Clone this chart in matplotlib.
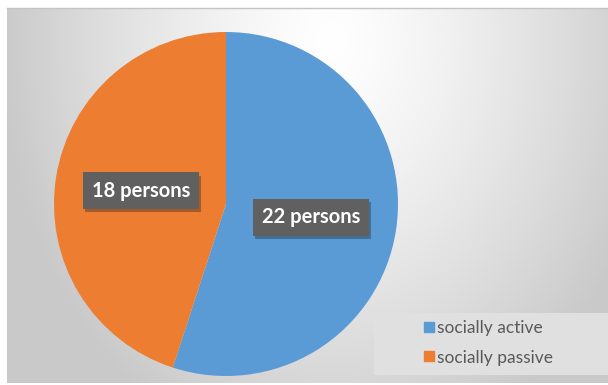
import numpy as np
import matplotlib
matplotlib.use("Agg")
import matplotlib.pyplot as plt
from matplotlib.patches import Rectangle
from matplotlib.lines import Line2D
import matplotlib.patheffects as pe

categories = ["socially active", "socially passive"]
values = [22, 18]
colors = ["#5B9BD5", "#ED7D31"]
label_fmt = "{} persons"

W, H = 608, 385
fig = plt.figure(figsize=(W / 100, H / 100), dpi=100)
fig.patch.set_facecolor("white")

# background with radial gradient
bx0, by0, bx1, by1 = 7, 8, 608, 383
bg = fig.add_axes([bx0 / W, 1 - by1 / H, (bx1 - bx0) / W, (by1 - by0) / H])
xs = np.arange(bx0, bx1)
ys = np.arange(by0, by1)
X, Y = np.meshgrid(xs, ys)
cx, cy = 330, 40
r = np.sqrt(((X - cx) / 330.0) ** 2 + ((Y - cy) / 430.0) ** 2)
r = np.clip(r, 0, 1)
v = 1.0 - (1.0 - 0.79) * r ** 1.3
img = np.dstack([v, v, v])
bg.imshow(img, aspect="auto", extent=[0, 1, 0, 1], interpolation="bilinear")
bg.set_axis_off()
fig.add_artist(Line2D([bx0 / W, 1], [1 - by0 / H, 1 - by0 / H], color="#c4c4c4", lw=1))

# pie
cxp, cyp, rad = 226, 204, 172
ax = fig.add_axes([(cxp - rad) / W, 1 - (cyp + rad) / H, 2 * rad / W, 2 * rad / H])
ax.set_facecolor("none")
wedges, texts, autotexts = ax.pie(
    values, colors=colors, startangle=90, counterclock=False,
    autopct=lambda p: label_fmt.format(int(round(p * sum(values) / 100))),
    pctdistance=0.5, wedgeprops=dict(linewidth=0),
    textprops=dict(color="white", fontsize=14.5, fontweight="bold", family="Lato"),
)
for t in autotexts:
    t.set_bbox(dict(boxstyle="square,pad=0.42", facecolor="#606060", edgecolor="none"))
    t.get_bbox_patch().set_path_effects([pe.withSimplePatchShadow(offset=(1.5, -2.5), alpha=0.35)])
ax.set_xlim(-1, 1)
ax.set_ylim(-1, 1)
ax.set_aspect("auto")

# legend box
fig.add_artist(Rectangle((374 / W, 1 - 375 / H), (608 - 374) / W, (375 - 313) / H,
                         transform=fig.transFigure, facecolor="#e0e0e0", edgecolor="none"))
handles = [Line2D([], [], marker="s", linestyle="none", markersize=7.5,
                  markerfacecolor=c, markeredgecolor=c) for c in colors]
leg = fig.legend(handles, categories, loc="center left",
                 bbox_to_anchor=(414 / W, 1 - 343 / H), frameon=False,
                 prop=dict(family="Lato", size=12.5), labelcolor="#595959",
                 handlelength=0.7, handletextpad=0.15, labelspacing=0.75, borderpad=0)

fig.savefig("out.png", dpi=100)
